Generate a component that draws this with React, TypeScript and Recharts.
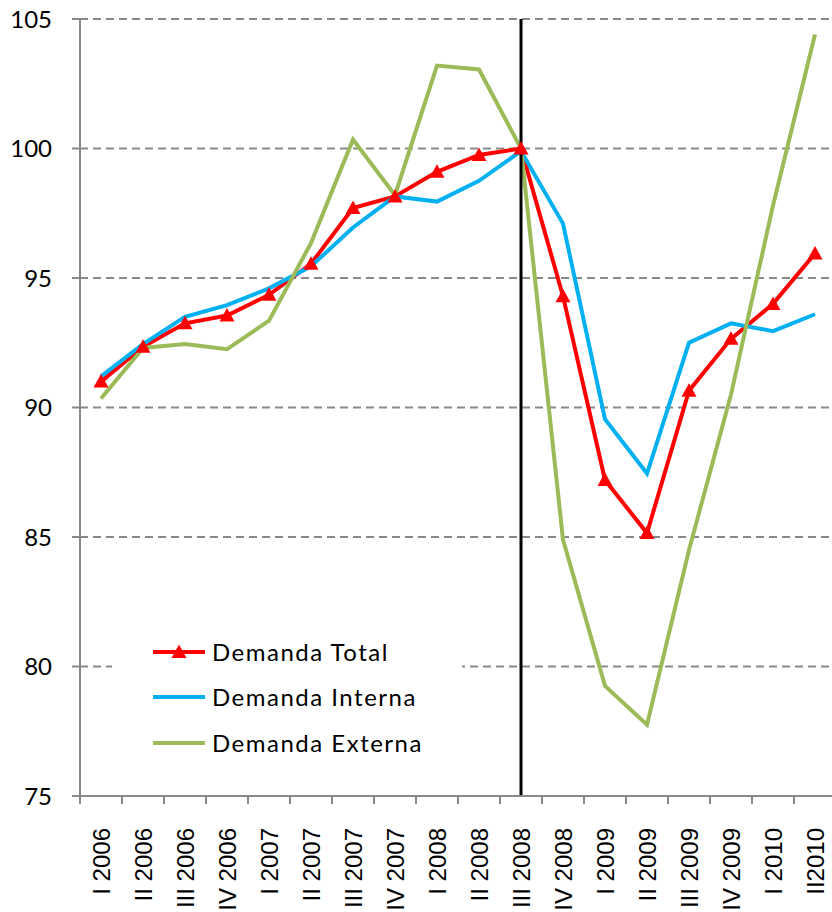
import { LineChart, Line, XAxis, YAxis, CartesianGrid, ReferenceLine } from 'recharts';

const categories = [
  'I 2006', 'II 2006', 'III 2006', 'IV 2006',
  'I 2007', 'II 2007', 'III 2007', 'IV 2007',
  'I 2008', 'II 2008', 'III 2008', 'IV 2008',
  'I 2009', 'II 2009', 'III 2009', 'IV 2009',
  'I 2010', 'II2010',
];

const demandaTotal = [91.0, 92.35, 93.25, 93.55, 94.35, 95.55, 97.7, 98.15, 99.1, 99.75, 100.0, 94.3, 87.2, 85.15, 90.65, 92.65, 94.0, 95.95];
const demandaInterna = [91.2, 92.45, 93.5, 93.95, 94.6, 95.45, 96.95, 98.15, 97.95, 98.75, 99.9, 97.1, 89.55, 87.45, 92.5, 93.25, 92.95, 93.6];
const demandaExterna = [90.35, 92.3, 92.45, 92.25, 93.35, 96.35, 100.35, 98.2, 103.2, 103.05, 100.0, 84.9, 79.25, 77.75, 84.5, 90.5, 97.8, 104.4];

const yTicks = [75, 80, 85, 90, 95, 100, 105];
const breakAt = 'III 2008';

const series = [
  { key: 'total', name: 'Demanda Total', color: '#FF0000', marker: true },
  { key: 'interna', name: 'Demanda Interna', color: '#00B0F0', marker: false },
  { key: 'externa', name: 'Demanda Externa', color: '#9BBB59', marker: false },
];

const CHART_W = 840;
const CHART_H = 912;
const MARGIN = { top: 19, right: 4, bottom: 0, left: 0 };
const Y_AXIS_W = 80;
const BAND = (CHART_W - MARGIN.left - MARGIN.right - Y_AXIS_W) / categories.length;
const AXIS_GRAY = '#898989';

const data = categories.map((name, i) => ({
  name,
  total: demandaTotal[i],
  interna: demandaInterna[i],
  externa: demandaExterna[i],
}));

function Triangle({ cx, cy, color }: { cx: number; cy: number; color: string }) {
  return <path d={`M${cx},${cy - 7.5} L${cx + 7.5},${cy + 6} L${cx - 7.5},${cy + 6} Z`} fill={color} />;
}

function CategoryTick({ x, y, payload }: any) {
  const ty = y + 24;
  return (
    <g>
      <line x1={x - BAND / 2} x2={x - BAND / 2} y1={y - 8} y2={y} stroke={AXIS_GRAY} strokeWidth={2} />
      <text
        x={x}
        y={ty}
        transform={`rotate(-90, ${x}, ${ty})`}
        textAnchor="end"
        dominantBaseline="central"
        fontFamily="'Liberation Sans', Arial, sans-serif"
        fontSize={24}
        fill="#000"
      >
        {payload.value}
      </text>
    </g>
  );
}

function LegendBox() {
  return (
    <div style={{ position: 'absolute', left: 112, top: 629, background: '#fff', paddingLeft: 41, width: 309 }}>
      {series.map((s) => (
        <div key={s.key} style={{ display: 'flex', alignItems: 'center', height: 45.5 }}>
          <svg width={52} height={20} style={{ display: 'block' }}>
            <line x1={0} x2={52} y1={10} y2={10} stroke={s.color} strokeWidth={4} strokeLinecap="round" />
            {s.marker && <Triangle cx={26} cy={10} color={s.color} />}
          </svg>
          <span
            style={{
              marginLeft: 7,
              fontFamily: 'Lato, sans-serif',
              fontSize: 24,
              letterSpacing: 1.5,
              whiteSpace: 'nowrap',
              color: '#000',
              lineHeight: 1,
            }}
          >
            {s.name}
          </span>
        </div>
      ))}
    </div>
  );
}

export default function App() {
  return (
    <div style={{ position: 'absolute', left: 0, top: 0, width: 832, height: 912, overflow: 'hidden', background: '#fff' }}>
      <LineChart width={CHART_W} height={CHART_H} data={data} margin={MARGIN}>
        <CartesianGrid vertical={false} stroke={AXIS_GRAY} strokeWidth={2} strokeDasharray="8 5" />
        <XAxis
          dataKey="name"
          scale="band"
          interval={0}
          height={CHART_H - 796}
          axisLine={{ stroke: AXIS_GRAY, strokeWidth: 2 }}
          tickLine={false}
          tickSize={8}
          tickMargin={0}
          tick={<CategoryTick />}
        />
        <YAxis
          width={Y_AXIS_W}
          domain={[75, 105]}
          ticks={yTicks}
          interval={0}
          axisLine={{ stroke: AXIS_GRAY, strokeWidth: 2 }}
          tickLine={{ stroke: AXIS_GRAY, strokeWidth: 2 }}
          tickSize={8}
          tickMargin={20}
          tick={{ fontFamily: 'Lato, sans-serif', fontSize: 24, fill: '#000' }}
        />
        {series.map((s) => (
          <Line
            key={s.key}
            type="linear"
            dataKey={s.key}
            name={s.name}
            stroke={s.color}
            strokeWidth={4}
            isAnimationActive={false}
            dot={
              s.marker
                ? (p: any) => <Triangle key={`t-${p.index}`} cx={p.cx} cy={p.cy} color={s.color} />
                : false
            }
            activeDot={false}
          />
        ))}
        <ReferenceLine x={breakAt} stroke="#000" strokeWidth={3} />
      </LineChart>
      <LegendBox />
    </div>
  );
}
